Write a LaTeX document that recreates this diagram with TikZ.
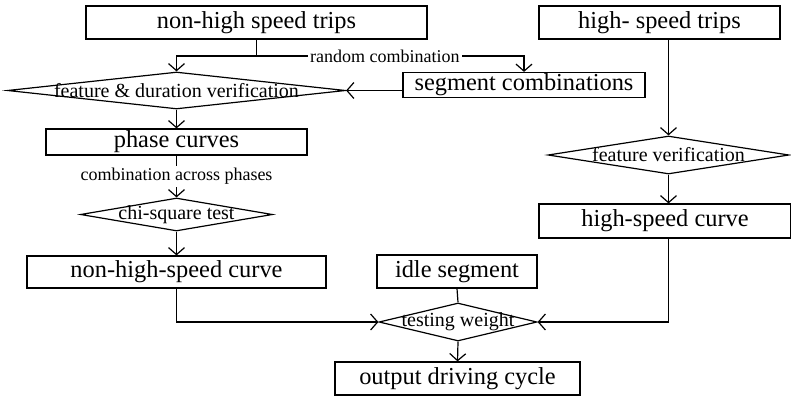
\documentclass[tikz,border=0pt]{standalone}
\usepackage{fontspec}
\setmainfont{Liberation Serif}
\usetikzlibrary{arrows.meta,shapes.geometric}

\begin{document}
\begin{tikzpicture}[
  x=0.5pt, y=-0.5pt,
  line width=0.6pt,
  >={Straight Barb[length=3.5pt,width=8pt]},
  box/.style={rectangle, draw=black, inner sep=0pt, font=\fontsize{12.2}{14}\selectfont},
  decision/.style={diamond, draw=black, inner sep=0pt, font=\fontsize{10}{12}\selectfont},
  lbl/.style={fill=white, inner sep=1pt, font=\fontsize{9}{11}\selectfont}]

\useasboundingbox (0,0) rectangle (791,396);

% left branch
\node[box, minimum width=170.5pt, minimum height=16.5pt] (nhtrips) at (256.5,22.5) {non-high speed trips};
\node[box, minimum width=121pt, minimum height=12.5pt] (segcomb) at (524,85) {segment combinations};
\node[decision, minimum width=169pt, minimum height=18.5pt] (fdv) at (176.5,90.5) {\makebox[0pt]{feature \& duration verification}};
\node[box, minimum width=130.5pt, minimum height=13pt] (phase) at (176.5,142) {phase curves};
\node[decision, minimum width=96pt, minimum height=16.5pt] (chi) at (176.5,214.5) {\makebox[0pt]{chi-square test}};
\node[box, minimum width=149.5pt, minimum height=16pt] (nhcurve) at (176.5,272) {non-high-speed curve};

% right branch
\node[box, minimum width=120.5pt, minimum height=16.5pt] (htrips) at (659.5,22.5) {high- speed trips};
\node[decision, minimum width=120.5pt, minimum height=19pt] (fv) at (668.5,155) {\makebox[0pt]{feature verification}};
\node[box, minimum width=126pt, minimum height=17pt] (hcurve) at (665,221) {high-speed curve};

% merge
\node[box, minimum width=80pt, minimum height=16.5pt] (idle) at (457,271.5) {idle segment};
\node[decision, minimum width=79pt, minimum height=19pt] (tw) at (458,322) {\makebox[0pt]{testing weight}};
\node[box, minimum width=122.5pt, minimum height=16.5pt] (output) at (457.5,378.5) {output driving cycle};

\coordinate (split) at (256.5,56);
\draw (nhtrips.south) -- (split);
\draw[->] (split) -| (fdv.north);
\draw[->] (split) -| node[lbl, pos=0.24] {random combination} (segcomb.north);
\draw[->] (segcomb.west |- fdv.east) -- (fdv.east);
\draw[->] (fdv.south) -- (phase.north);
\draw[->] (phase.south) -- node[lbl] {combination across phases} (chi.north);
\draw[->] (chi.south) -- (nhcurve.north);
\draw[->] (nhcurve.south) |- (tw.west);

\draw[->] (htrips.south -| fv.north) -- (fv.north);
\draw[->] (fv.south) -- (fv.south |- hcurve.north);
\draw[->] (hcurve.south -| fv.south) |- (tw.east);

\draw (idle.south) -- (tw.north);
\draw[->] (tw.south) -- (output.north);

\end{tikzpicture}
\end{document}
